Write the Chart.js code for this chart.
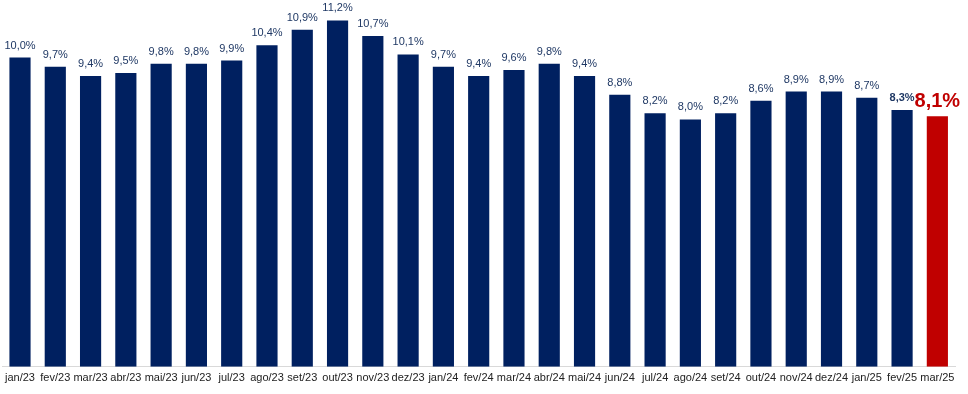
<!DOCTYPE html>
<html>
<head>
<meta charset="utf-8">
<script src="https://cdn.jsdelivr.net/npm/chart.js@4"></script>
<style>
  html, body { margin: 0; padding: 0; background: #fff; }
  #wrap { width: 968px; height: 394px; position: relative; }
</style>
</head>
<body>
<div id="wrap"><canvas id="myChart"></canvas></div>
<script>
const meses = [
  'jan/23', 'fev/23', 'mar/23', 'abr/23', 'mai/23', 'jun/23', 'jul/23', 'ago/23', 'set/23',
  'out/23', 'nov/23', 'dez/23', 'jan/24', 'fev/24', 'mar/24', 'abr/24', 'mai/24', 'jun/24',
  'jul/24', 'ago/24', 'set/24', 'out/24', 'nov/24', 'dez/24', 'jan/25', 'fev/25', 'mar/25'
];
const taxa = [
  10.0, 9.7, 9.4, 9.5, 9.8, 9.8, 9.9, 10.4, 10.9,
  11.2, 10.7, 10.1, 9.7, 9.4, 9.6, 9.8, 9.4, 8.8,
  8.2, 8.0, 8.2, 8.6, 8.9, 8.9, 8.7, 8.3, 8.1
];

const azul = '#002060';
const vermelho = '#C00000';
const ultimo = taxa.length - 1;

// rótulos em cima das barras
const rotulos = {
  id: 'rotulos',
  afterDatasetsDraw(chart) {
    const ctx = chart.ctx;
    const meta = chart.getDatasetMeta(0);
    ctx.save();
    ctx.textAlign = 'center';
    ctx.textBaseline = 'alphabetic';
    meta.data.forEach((bar, i) => {
      const txt = taxa[i].toFixed(1).replace('.', ',') + '%';
      if (i === ultimo) {
        ctx.font = 'bold 20px "Liberation Sans", Arial, sans-serif';
        ctx.fillStyle = vermelho;
        ctx.fillText(txt, bar.x, bar.y - 9);
      } else if (i === ultimo - 1) {
        ctx.font = 'bold 11px "Liberation Sans", Arial, sans-serif';
        ctx.fillStyle = '#1F3864';
        ctx.fillText(txt, bar.x, bar.y - 9);
      } else {
        ctx.font = '11px "Liberation Sans", Arial, sans-serif';
        ctx.fillStyle = '#1F3864';
        ctx.fillText(txt, bar.x, bar.y - 9);
      }
    });
    ctx.restore();
  }
};

let myChart = new Chart(
  document.getElementById('myChart'),
  {
    type: 'bar',
    data: {
      labels: meses,
      datasets: [
        {
          data: taxa,
          backgroundColor: taxa.map((v, i) => i === ultimo ? vermelho : azul),
          barPercentage: 0.6,
          categoryPercentage: 1
        }
      ]
    },
    options: {
      responsive: true,
      maintainAspectRatio: false,
      animation: false,
      layout: { padding: { left: 1, right: 13, top: 0, bottom: 4 } },
      plugins: {
        legend: false,
        tooltip: { enabled: false }
      },
      scales: {
        x: {
          grid: { display: false, drawTicks: false },
          border: { color: '#d9d9d9', width: 1 },
          ticks: {
            color: '#222',
            padding: 5,
            maxRotation: 0,
            autoSkip: false,
            font: { family: '"Liberation Sans", Arial, sans-serif', size: 11 }
          }
        },
        y: {
          display: false,
          min: 0,
          max: 11.86
        }
      }
    },
    plugins: [rotulos]
  }
);
</script>
</body>
</html>
